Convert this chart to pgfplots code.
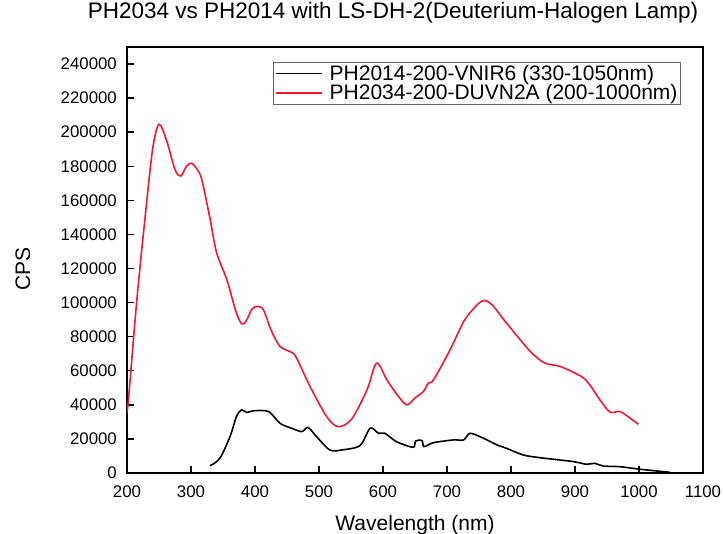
\documentclass[border=0pt]{standalone}
\usepackage{pgfplots}
\pgfplotsset{compat=1.18}
\usepackage{fontspec}
\setmainfont{Liberation Sans}
\definecolor{specred}{RGB}{240,25,50}
\begin{document}
\begin{tikzpicture}[font=\fontsize{21}{22}\selectfont]
\begin{axis}[
  scale only axis,
  width=576pt, height=426pt,
  xmin=200, xmax=1100, ymin=0, ymax=250000,
  xtick={200,300,...,1100},
  ytick={0,20000,...,240000},
  scaled y ticks=false,
  /pgf/number format/assume math mode=true,
  /pgf/number format/fixed,
  /pgf/number format/1000 sep={},
  ticklabel style={font=\fontsize{16.8}{18}\selectfont},
  xticklabel style={anchor=base, yshift=-24pt},
  yticklabel style={anchor=east, inner sep=0pt, xshift=-10pt},
  tick align=inside,
  xtick pos=bottom, ytick pos=left,
  major tick length=7pt,
  axis line style={line width=1.4pt},
  tick style={line width=1.4pt, black},
  title={PH2034 vs PH2014 with LS-DH-2(Deuterium-Halogen Lamp)},
  title style={at={(axis description cs:0.5,1)}, anchor=base, yshift=22pt, xshift=-22pt, font=\fontsize{22.5}{23}\selectfont},
  xlabel={Wavelength (nm)},
  ylabel={CPS},
  xlabel style={at={(axis description cs:0.5,0)}, anchor=base, yshift=-57pt, font=\fontsize{21}{22}\selectfont},
  ylabel style={at={(axis description cs:-0.1684,0.479)}, anchor=base, font=\fontsize{21}{22}\selectfont},
  legend style={at={(0.962,0.965)}, anchor=north east, draw=gray!80!black, line width=0.8pt,
    font=\fontsize{21}{22}\selectfont, row sep=0pt, column sep=6pt, inner sep=2pt,
    nodes={inner sep=1.2pt}},
  legend image code/.code={\draw[#1, line width=1.2pt] (0pt,0pt) -- (46pt,0pt);},
  legend cell align=left,
]
\addplot[black, line width=1.6pt, smooth] coordinates {
(330,4300) (345,8600) (361,21400) (371,33100) (379,37100) (387,35500) (397,36500)
(421,36100) (439,29200) (457,26300) (473,24300) (483,26700) (496,21400) (517,13500)
(535,13500) (564,16100) (580,26300) (593,23300) (603,23300) (621,18400) (647,15100)
(651,18800) (661,19000) (664,15500) (679,17800) (710,19400) (726,19400) (736,23300)
(757,20400) (778,16500) (793,14500) (819,10600) (845,9000) (897,6700) (918,5100)
(931,5700) (944,4100) (970,3700) (1002,2200) (1048,400)
};
\addlegendentry{PH2014-200-VNIR6 (330-1050nm)}
\addplot[specred, line width=1.6pt, smooth] coordinates {
(200,38000) (202,42000) (215,100000) (228,149000) (240,190000) (250,204700) (262,195000)
(275,178000) (284,174300) (293,180000) (301,181800) (310,178000) (317,172000) (330,148800)
(340,129200) (356,113500) (370,95000) (379,87600) (386,89000) (395,96000) (403,97800) (413,95900)
(425,84000) (439,74300) (457,70800) (465,67500) (486,50800) (512,33100) (530,27200)
(551,31600) (575,48800) (590,64500) (606,54700) (622,46000) (637,40000) (650,44000) (663,47800)
(671,52800) (679,54700) (705,72400) (728,90000) (754,100800) (770,98800) (793,88000)
(830,71400) (853,64500) (877,62500) (910,56600) (923,51800) (939,42900) (955,35700)
(970,36100) (986,32200) (999,28600)
};
\addlegendentry{PH2034-200-DUVN2A (200-1000nm)\rule[-9pt]{0pt}{1pt}}
\end{axis}
\pgfresetboundingbox
\path ([shift={(-127pt,-60pt)}]current axis.south west) rectangle ([shift={(20pt,47pt)}]current axis.north east);
\end{tikzpicture}
\end{document}
